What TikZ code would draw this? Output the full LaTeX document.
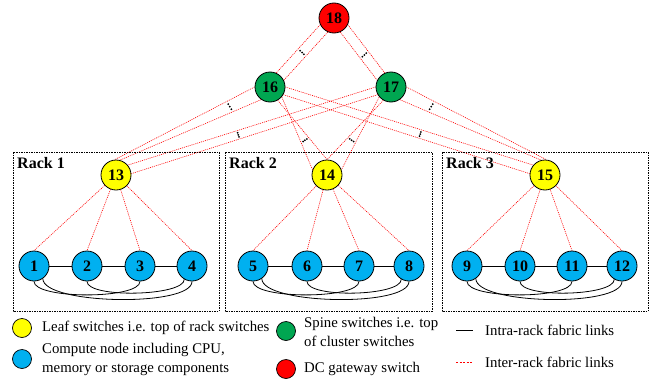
\documentclass[tikz,border=0pt]{standalone}
\usepackage{fontspec}
\setmainfont{Liberation Serif}
\usetikzlibrary{calc,backgrounds}
\definecolor{cyellow}{RGB}{255,255,0}
\definecolor{cgreen}{RGB}{0,166,81}
\definecolor{cred}{RGB}{255,0,0}
\definecolor{cblue}{RGB}{0,176,240}
\begin{document}
\begin{tikzpicture}[x=1pt,y=-1pt,
  nd/.style={circle,draw=black,line width=0.8pt,minimum size=30pt,inner sep=0pt,font=\fontsize{16}{16}\selectfont\bfseries},
  comp/.style={nd,fill=cblue},
  leaf/.style={nd,fill=cyellow},
  spine/.style={nd,fill=cgreen},
  gw/.style={nd,fill=cred},
  inter/.style={red,line width=0.6pt,dash pattern=on 1pt off 1pt},
  intra/.style={black,line width=0.8pt},
  rackbox/.style={draw=black,line width=0.6pt,dash pattern=on 1.5pt off 1pt},
  racklbl/.style={anchor=west,font=\fontsize{16}{16}\selectfont\bfseries,inner sep=0pt},
  legc/.style={circle,draw=black,line width=0.7pt,minimum size=19pt,inner sep=0pt},
  legt/.style={anchor=west,font=\fontsize{14.8}{19}\selectfont,inner sep=0pt,align=left}
]
\useasboundingbox (0,0) rectangle (655,380);

% rack boxes
\draw[rackbox] (13,152) rectangle (219,311);
\draw[rackbox] (225,152) rectangle (432,311);
\draw[rackbox] (442,152) rectangle (648,311);
\node[racklbl] (r1) at (17,163) {Rack 1};
\node[racklbl] (r2) at (229,163) {Rack 2};
\node[racklbl] (r3) at (446,163) {Rack 3};

% switches
\node[gw] (n18) at (334,18) {18};
\node[spine] (n16) at (270,87) {16};
\node[spine] (n17) at (391,87) {17};
\node[leaf] (n13) at (116,175) {13};
\node[leaf] (n14) at (327,175) {14};
\node[leaf] (n15) at (545,175) {15};

% compute nodes
\node[comp] (n1) at (34,266) {1};
\node[comp] (n2) at (87,266) {2};
\node[comp] (n3) at (140,266) {3};
\node[comp] (n4) at (192,266) {4};
\node[comp] (n5) at (253,266) {5};
\node[comp] (n6) at (307,266) {6};
\node[comp] (n7) at (359,266) {7};
\node[comp] (n8) at (409,266) {8};
\node[comp] (n9) at (467,266) {9};
\node[comp] (n10) at (520,266) {10};
\node[comp] (n11) at (572,266) {11};
\node[comp] (n12) at (622,266) {12};

\begin{scope}[on background layer]
  % gateway - spine
  \draw[inter] (n18.206) -- (n16.66);
  \draw[inter] (n18.246) -- (n16.26);
  \draw[inter] (n18.-26) -- (n17.114);
  \draw[inter] (n18.-66) -- (n17.154);
  % spine - leaf
  \draw[inter] (n16.180) -- (n13.95);
  \draw[inter] (n16.235) -- (n13.75);
  \draw[inter] (n17.180) -- (n13.40);
  \draw[inter] (n17.210) -- (n13.5);
  \draw[inter] (n16.-60) -- (n14.90);
  \draw[inter] (n16.-40) -- (n14.160);
  \draw[inter] (n17.240) -- (n14.90);
  \draw[inter] (n17.220) -- (n14.20);
  \draw[inter] (n17.0) -- (n15.85);
  \draw[inter] (n17.-55) -- (n15.105);
  \draw[inter] (n16.0) -- (n15.140);
  \draw[inter] (n16.-30) -- (n15.175);
  % leaf - compute
  \foreach \l/\a/\b/\c/\d in {n13/n1/n2/n3/n4, n14/n5/n6/n7/n8, n15/n9/n10/n11/n12} {
    \draw[inter] (\l) -- (\a.north);
    \draw[inter] (\l) -- (\b.north);
    \draw[inter] (\l) -- (\c.north);
    \draw[inter] (\l) -- (\d.north);
  }
  % intra-rack
  \foreach \a/\b/\c/\d in {n1/n2/n3/n4, n5/n6/n7/n8, n9/n10/n11/n12} {
    \draw[intra] (\a) -- (\b);
    \draw[intra] (\b) -- (\c);
    \draw[intra] (\c) -- (\d);
    \draw[intra] (\a.south) .. controls +(0,18) and +(0,18) .. (\c.south);
    \draw[intra] (\b.south) .. controls +(0,17) and +(0,17) .. (\d.-120);
    \draw[intra] (\a.-55) .. controls +(0,26) and +(0,26) .. (\d.south);
  }
\end{scope}

% multiplicity dots: end points between each pair of parallel links
\coordinate (da1) at ($(n18.206)!0.5!(n16.66)$);
\coordinate (db1) at ($(n18.246)!0.5!(n16.26)$);
\coordinate (da2) at ($(n18.-26)!0.55!(n17.114)$);
\coordinate (db2) at ($(n18.-66)!0.55!(n17.154)$);
\coordinate (da3) at ($(n16.180)!0.2!(n13.95)$);
\coordinate (db3) at ($(n16.235)!0.2!(n13.75)$);
\coordinate (da4) at ($(n17.180)!0.56!(n13.40)$);
\coordinate (db4) at ($(n17.210)!0.56!(n13.5)$);
\coordinate (da5) at ($(n16.-60)!0.63!(n14.90)$);
\coordinate (db5) at ($(n16.-40)!0.63!(n14.160)$);
\coordinate (da6) at ($(n17.240)!0.63!(n14.90)$);
\coordinate (db6) at ($(n17.220)!0.63!(n14.20)$);
\coordinate (da7) at ($(n17.0)!0.2!(n15.85)$);
\coordinate (db7) at ($(n17.-55)!0.2!(n15.105)$);
\coordinate (da8) at ($(n16.0)!0.55!(n15.140)$);
\coordinate (db8) at ($(n16.-30)!0.55!(n15.175)$);
\foreach \k in {1,...,8} {
  \foreach \t in {0.25,0.5,0.75} {
    \fill[black] ($(da\k)!\t!(db\k)$) circle (1pt);
  }
}

% legend
\node[legc,fill=cyellow] (ly) at (22,328) {};
\node[legt] (lyt) at (42,328) {Leaf switches i.e. top of rack switches};
\node[legc,fill=cblue] (lb) at (22,359) {};
\node[legt] (lbt) at (42,359) {Compute node including CPU,\\memory or storage components};
\node[legc,fill=cgreen] (lg) at (286,331) {};
\node[legt] (lgt) at (304,332) {Spine switches i.e. top\\of cluster switches};
\node[legc,fill=cred] (lr) at (286,369) {};
\node[legt] (lrt) at (304,369) {DC gateway switch};
\coordinate (li1) at (456,330);
\coordinate (li2) at (473,330);
\draw[intra] (li1) -- (li2);
\node[legt] (lit) at (485,330) {Intra-rack fabric links};
\coordinate (le1) at (456,362);
\coordinate (le2) at (473,362);
\draw[inter,dash pattern=on 2pt off 1.5pt] (le1) -- (le2);
\node[legt] (let) at (485,362) {Inter-rack fabric links};
\end{tikzpicture}
\end{document}
